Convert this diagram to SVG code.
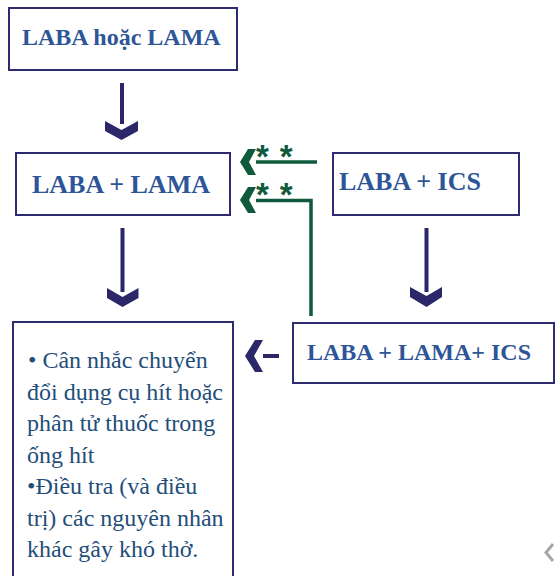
<svg xmlns="http://www.w3.org/2000/svg" width="555" height="576" viewBox="0 0 555 576">
<style>
.box{fill:#fff;stroke:#2E2B70;stroke-width:2}
.title{font-family:"Liberation Serif","Times New Roman",serif;font-weight:bold;fill:#2E5597}
.body{font-family:"Liberation Serif","Times New Roman",serif;font-size:24px;fill:#1F4E79}
.navy{fill:#2B2768}
.navyline{stroke:#2B2768;stroke-width:4;fill:none}
.green{fill:#0F5A3C}
.greenline{stroke:#0F5A3C;stroke-width:3.5;fill:none}
.ast{font-family:"Liberation Sans",Arial,sans-serif;font-weight:bold;font-size:33px;fill:#0F5A3C;letter-spacing:11px}
</style>
<rect width="555" height="576" fill="#fff"/>
<g id="node-laba-or-lama">
<rect class="box" x="9" y="8" width="228" height="62"/>
<text class="title" x="22" y="45" font-size="24">LABA hoặc LAMA</text>
</g>
<g id="node-laba-lama">
<rect class="box" x="16" y="153" width="214" height="62"/>
<text class="title" x="32" y="193" font-size="26">LABA + LAMA</text>
</g>
<g id="node-laba-ics">
<rect class="box" x="333" y="153" width="186" height="62"/>
<text class="title" x="339" y="190" font-size="26">LABA + ICS</text>
</g>
<g id="node-laba-lama-ics">
<rect class="box" x="293" y="323" width="261" height="60"/>
<text class="title" x="307" y="360" font-size="24">LABA + LAMA+ ICS</text>
</g>
<g id="node-advice">
<rect class="box" x="13" y="322" width="220" height="270"/>
<text class="body" x="28" y="368">• Cân nhắc chuyển</text>
<text class="body" x="27" y="399.5">đổi dụng cụ hít hoặc</text>
<text class="body" x="27" y="431">phân tử thuốc trong</text>
<text class="body" x="27" y="462.5">ống hít</text>
<text class="body" x="27" y="494">•Điều tra (và điều</text>
<text class="body" x="27" y="525.5">trị) các nguyên nhân</text>
<text class="body" x="27" y="557">khác gây khó thở.</text>
</g>
<g id="connectors">
<line class="navyline" x1="122" y1="83" x2="122" y2="124"/>
<polygon class="navy" points="105,121 121.5,130 138,121 138,131 121.5,140 105,131"/>
<line class="navyline" x1="122.5" y1="228" x2="122.5" y2="292"/>
<polygon class="navy" points="107,288 122.5,297 138.5,288 138.5,298 122.5,307 107,298"/>
<line class="navyline" x1="426.5" y1="228" x2="426.5" y2="292"/>
<polygon class="navy" points="410,287 426.5,296 442,287 442,297 426.5,307 410,297"/>
<line class="navyline" x1="263" y1="356" x2="279" y2="356"/>
<polygon class="navy" points="255,340 263,340 254,356 263,372 255,372 245,356"/>
<line class="greenline" x1="256" y1="162" x2="317" y2="162"/>
<polygon class="green" points="248,149 256,149 249,162 256,175 248,175 240,162"/>
<text class="ast" x="256" y="168">**</text>
<polyline class="greenline" points="256,200.5 311,200.5 311,316"/>
<polygon class="green" points="248,187 256,187 249,200 256,213 248,213 240,200"/>
<text class="ast" x="256" y="206">**</text>
</g>
<polyline points="553,544 546,552.5 553,561" fill="none" stroke="#A6A6A6" stroke-width="3"/>
</svg>
